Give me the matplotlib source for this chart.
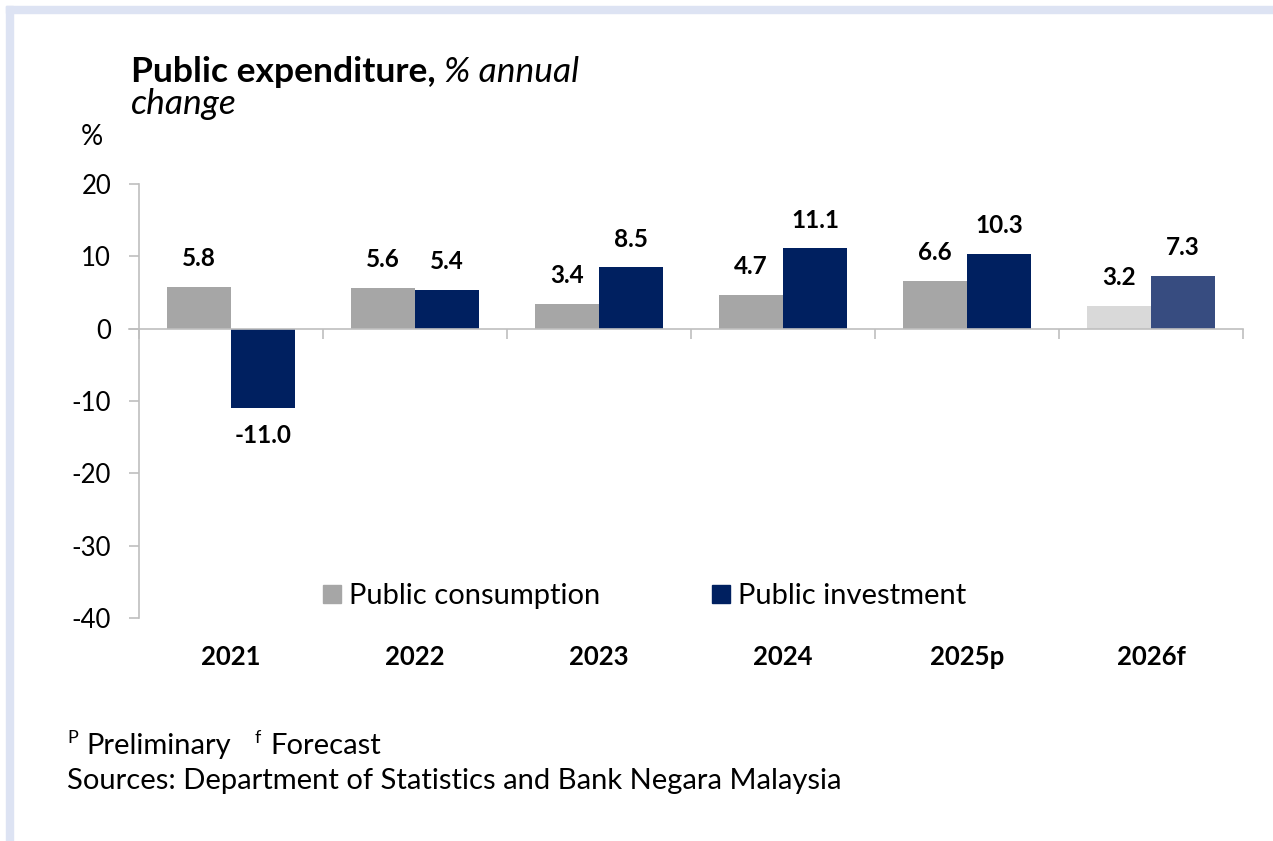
import numpy as np
import matplotlib.pyplot as plt
from matplotlib.patches import Rectangle, Patch
import matplotlib.transforms as mtransforms

plt.rcParams['font.family'] = ['Lato', 'DejaVu Sans']
plt.rcParams['axes.unicode_minus'] = False

years = ["2021", "2022", "2023", "2024", "2025p", "2026f"]
consumption = [5.8, 5.6, 3.4, 4.7, 6.6, 3.2]
investment = [-11.0, 5.4, 8.5, 11.1, 10.3, 7.3]

cons_colors = ["#a6a6a6"] * 5 + ["#d9d9d9"]
inv_colors = ["#002060"] * 5 + ["#374c80"]

W, H = 1273, 841
fig = plt.figure(figsize=(W / 100, H / 100), dpi=100)


def px(x, y):
    return x / W, 1 - y / H


# light frame on top and left
fig.patches.append(Rectangle(px(6, 13), 1, 7 / H, transform=fig.transFigure,
                             color="#dde3f3", zorder=0))
fig.patches.append(Rectangle((6 / W, 0), 7 / W, 1 - 6 / H, transform=fig.transFigure,
                             color="#dde3f3", zorder=0))

ax = fig.add_axes([139 / W, 1 - 618 / H, (1243 - 139) / W, (618 - 184) / H])

x = np.arange(len(years))
bw = 0.348
b1 = ax.bar(x - bw / 2, consumption, bw, color=cons_colors, zorder=2)
b2 = ax.bar(x + bw / 2, investment, bw, color=inv_colors, zorder=2)

for bars, vals in ((b1, consumption), (b2, investment)):
    for rect, v in zip(bars, vals):
        cx = rect.get_x() + rect.get_width() / 2
        if v >= 0:
            ax.annotate(f"{v:.1f}", (cx, v), xytext=(0, 12), textcoords="offset points",
                        ha="center", va="bottom", fontsize=17.5, fontweight="bold")
        else:
            ax.annotate(f"{v:.1f}", (cx, v), xytext=(0, -11), textcoords="offset points",
                        ha="center", va="top", fontsize=17.5, fontweight="bold")

ax.set_xlim(-0.5, len(years) - 0.5)
ax.set_ylim(-40, 20)
ax.set_yticks(np.arange(-40, 21, 10))
ax.tick_params(axis="y", length=7, width=1.2, color="#bfbfbf", labelsize=18.5, pad=13)

for s in ("top", "right"):
    ax.spines[s].set_visible(False)
ax.spines["left"].set_color("#bfbfbf")
ax.spines["left"].set_linewidth(1.2)
ax.spines["bottom"].set_position(("data", 0))
ax.spines["bottom"].set_color("#bfbfbf")
ax.spines["bottom"].set_linewidth(1.2)
ax.spines["bottom"].set_zorder(3)
ax.set_xticks(np.arange(-0.5, len(years), 1))
ax.set_xticklabels([])
ax.tick_params(axis="x", length=7, width=1.2, color="#bfbfbf")

# zero line extends left of spine a little
ax.plot([-0.5 - 10 / 184, -0.5], [0, 0], color="#bfbfbf", lw=1.2, clip_on=False)

trans = mtransforms.blended_transform_factory(ax.transData, ax.transAxes)
for xi, lab in zip(x, years):
    ax.text(xi, -0.09, lab, transform=trans, ha="center", va="center",
            fontsize=18.5, fontweight="bold")

handles = [Patch(color="#a6a6a6", label="Public consumption"),
           Patch(color="#002060", label="Public investment")]
ax.legend(handles=handles, loc="center", bbox_to_anchor=(0.458, 0.05), ncol=2,
          frameon=False, fontsize=21, handlelength=0.62, handleheight=0.62,
          handletextpad=0.3, columnspacing=3.8)

# title
t1 = fig.text(*px(131, 72), "Public expenditure,", fontsize=25.5, fontweight="bold",
              va="center", ha="left")
fig.canvas.draw()
bb = t1.get_window_extent()
fig.text(bb.x1 / W + 8 / W, px(0, 72)[1], "% annual", fontsize=25.5, style="italic",
         va="center", ha="left")
fig.text(*px(131, 104), "change", fontsize=25.5, style="italic", va="center", ha="left")
fig.text(*px(81, 137), "%", fontsize=20, va="center", ha="left")

# footnotes
fig.text(*px(67, 738), "P", fontsize=13, va="center", ha="left")
fig.text(*px(86, 746), "Preliminary", fontsize=21, va="center", ha="left")
fig.text(*px(255, 738), "f", fontsize=13, va="center", ha="left")
fig.text(*px(270, 746), "Forecast", fontsize=21, va="center", ha="left")
fig.text(*px(67, 781), "Sources: Department of Statistics and Bank Negara Malaysia",
         fontsize=21, va="center", ha="left")

fig.savefig("out.png", dpi=100)
